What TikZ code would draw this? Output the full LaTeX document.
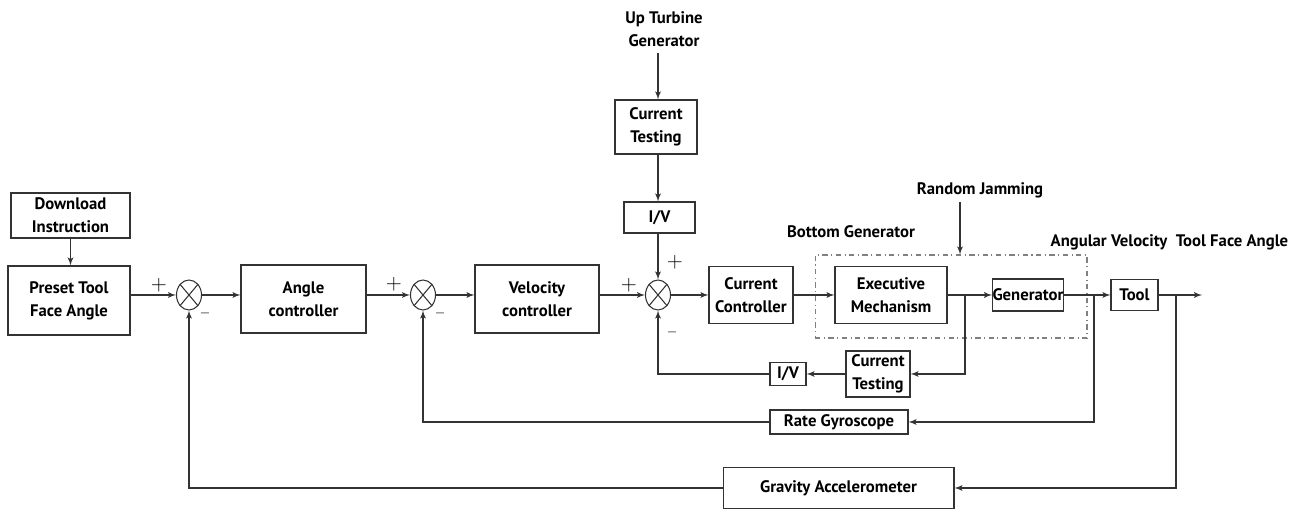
\documentclass[tikz,border=0pt]{standalone}
\usepackage{fontspec}
\setmainfont{PT Sans}
\usetikzlibrary{arrows,shapes.geometric}
\newcommand{\blocktext}{\bfseries\fontsize{9.5}{13}\selectfont}
\newcommand{\sumjunction}[2]{
	\node [draw, ellipse, minimum width=0.5cm, minimum height=0.6cm, inner sep=0pt] (#1) at (#2) {};
	\draw (#1.north west) -- (#1.south east) (#1.north east) -- (#1.south west);}
\newcommand{\plussign}[1]{\node at (#1) {\fontsize{13}{13}\selectfont$+$};}
\newcommand{\minussign}[1]{\node at (#1) {\fontsize{7}{7}\selectfont$-$};}

\begin{document}
\begin{tikzpicture}[x=0.02cm,y=-0.02cm,>=latex',line width=0.6pt,draw=black!80,
	block/.style={draw, align=center, inner sep=0pt, font=\blocktext},
	labeltext/.style={align=center, font=\blocktext}]
	\useasboundingbox (0,0) rectangle (1299,509);
	% input side
	\node [block, minimum width=2.38cm, minimum height=0.9cm] (dl) at (70.5,215.5) {Download\\Instruction};
	\node [block, minimum width=2.44cm, minimum height=1.38cm] (preset) at (69,300.5) {Preset Tool\\Face Angle};
	\sumjunction{s1}{189,295}
	\node [block, minimum width=2.5cm, minimum height=1.36cm] (angle) at (303.5,299) {Angle\\controller};
	\sumjunction{s2}{423,295}
	\node [block, minimum width=2.48cm, minimum height=1.36cm] (vel) at (537,299) {Velocity\\controller};
	\sumjunction{s3}{658,295}
	% current loop input from the upper turbine
	\node [labeltext] (up) at (664,29) {Up Turbine\\Generator};
	\node [block, minimum width=1.64cm, minimum height=1.08cm] (ct1) at (656,127) {Current\\Testing};
	\node [block, minimum width=1.42cm, minimum height=0.62cm] (iv1) at (659.5,217.5) {I/V};
	\node [block, minimum width=1.68cm, minimum height=1.14cm] (cc) at (751,295) {Current\\Controller};
	% bottom generator
	\node [draw, gray, dash dot, minimum width=5.44cm, minimum height=1.66cm] (bg) at (951,296.5) {};
	\node [labeltext] at (851,232) {Bottom Generator};
	\node [labeltext] (rj) at (980,190) {Random Jamming};
	\coordinate (jam) at (960,202);
	\node [block, minimum width=2.24cm, minimum height=1.14cm] (exec) at (891,295) {Executive\\Mechanism};
	\node [block, minimum width=1.4cm, minimum height=0.64cm] (gen) at (1028,295) {Generator};
	\node [block, minimum width=0.94cm, minimum height=0.62cm] (tool) at (1134.5,295) {Tool};
	\node [labeltext] at (1109,242) {Angular Velocity};
	\node [labeltext] at (1232,242) {Tool Face Angle};
	\coordinate (out) at (1202,295);
	% feedback blocks
	\node [block, minimum width=1.28cm, minimum height=0.92cm] (ct2) at (878,374) {Current\\Testing};
	\node [block, minimum width=0.72cm, minimum height=0.46cm] (iv2) at (788,374) {I/V};
	\node [block, minimum width=2.76cm, minimum height=0.48cm] (rg) at (839,422) {Rate Gyroscope};
	\node [block, minimum width=4.62cm, minimum height=0.82cm] (ga) at (838.5,488) {Gravity Accelerometer};
	\coordinate (b1) at (965,295);
	\coordinate (b2) at (1094,295);
	\coordinate (b3) at (1176,295);
	% signs
	\plussign{159,285}
	\minussign{205,313}
	\plussign{394,284}
	\minussign{440,313}
	\plussign{629,285}
	\plussign{675,262}
	\minussign{672,332}
	% forward path
	\draw [->] (dl) -- (dl |- preset.north);
	\draw [->] (s1 -| preset.east) -- (s1);
	\draw [->] (s1) -- (s1 -| angle.west);
	\draw [->] (s2 -| angle.east) -- (s2);
	\draw [->] (s2) -- (s2 -| vel.west);
	\draw [->] (s3 -| vel.east) -- (s3);
	\draw [->] (s3) -- (cc);
	\draw [->] (up.south -| s3) -- (s3 |- ct1.north);
	\draw [->] (s3 |- ct1.south) -- (s3 |- iv1.north);
	\draw [->] (s3 |- iv1.south) -- (s3);
	\draw [->] (jam) -- (jam |- bg.north);
	\draw [->] (cc) -- (exec);
	\draw [->] (exec) -- (gen);
	\draw [->] (gen) -- (tool);
	\draw [->] (tool) -- (out);
	% feedback paths
	\draw [->] (b1) |- (ct2);
	\draw [->] (ct2) -- (iv2);
	\draw [->] (iv2) -| (s3);
	\draw [->] (b2) |- (rg);
	\draw [->] (rg) -| (s2);
	\draw [->] (b3) |- (ga);
	\draw [->] (ga) -| (s1);
\end{tikzpicture}
\end{document}
